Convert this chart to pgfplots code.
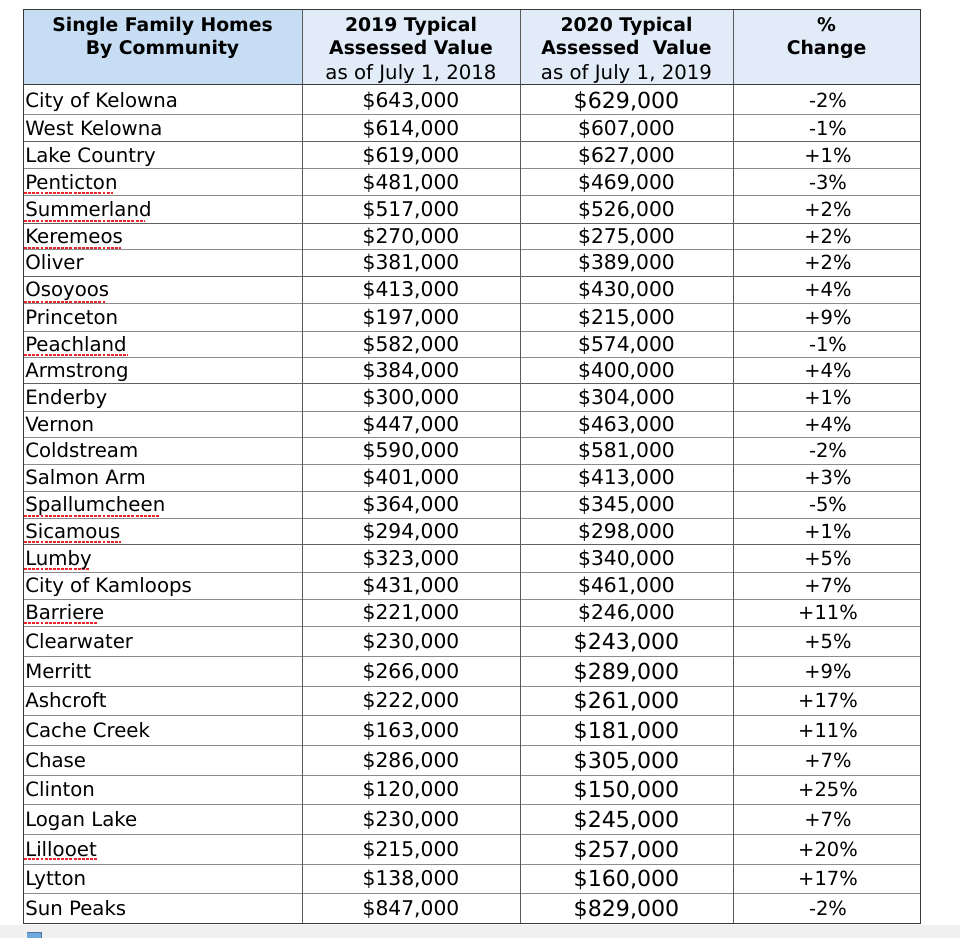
\documentclass[border=0pt]{standalone}
\usepackage{pgfplots}
\pgfplotsset{compat=1.18}
\usepackage{pgfplotstable}
\usepackage{fontspec}
\setmainfont{DejaVu Sans}
\definecolor{hdrA}{HTML}{C6DDF3}
\definecolor{hdrB}{HTML}{E1ECF8}
\definecolor{gridc}{HTML}{8C8C8C}
\definecolor{darkc}{HTML}{3A3A3A}
\definecolor{vlin}{HTML}{5A5A5A}
\definecolor{spell}{HTML}{E5262B}
\definecolor{iconb}{HTML}{6FA8DC}

\pgfplotstableread[col sep=semicolon]{
y;name;a;b;p
100;City of Kelowna;643000;629000;-2
128.5;West Kelowna;614000;607000;-1
155.5;Lake Country;619000;627000;1
182.5;Penticton;481000;469000;-3
209.5;Summerland;517000;526000;2
236;Keremeos;270000;275000;2
262.5;Oliver;381000;389000;2
289.5;Osoyoos;413000;430000;4
317;Princeton;197000;215000;9
344;Peachland;582000;574000;-1
370;Armstrong;384000;400000;4
397;Enderby;300000;304000;1
424;Vernon;447000;463000;4
450.5;Coldstream;590000;581000;-2
477.5;Salmon Arm;401000;413000;3
504.5;Spallumcheen;364000;345000;-5
531;Sicamous;294000;298000;1
558;Lumby;323000;340000;5
585.5;City of Kamloops;431000;461000;7
612.5;Barriere;221000;246000;11
641;Clearwater;230000;243000;5
671;Merritt;266000;289000;9
700.5;Ashcroft;222000;261000;17
730;Cache Creek;163000;181000;11
760;Chase;286000;305000;7
789.5;Clinton;120000;150000;25
819;Logan Lake;230000;245000;7
849;Lillooet;215000;257000;20
878.5;Lytton;138000;160000;17
908;Sun Peaks;847000;829000;-2
}\rows

\pgfplotstableread[col sep=semicolon]{
x;y;t
162.5;32;Single Family Homes
162.5;55;By Community
411;32;2019 Typical
411;55;Assessed Value
626.5;32;2020 Typical
626.5;55;Assessed\ \ Value
826.5;32;\%
826.5;55;Change
}\hdrbold

\pgfplotstableread[col sep=semicolon]{
x;y;t
411;80;as of July 1, 2018
626.5;80;as of July 1, 2019
}\hdrreg

\begin{document}
\begin{tikzpicture}
\begin{axis}[scale only axis, width=720pt, height=703.5pt,
  xmin=0, xmax=960, ymin=0, ymax=938, y dir=reverse, hide axis,
  every node near coord/.append style={inner sep=0pt, text=black}]
% background
\addplot[fill=white, draw=none] coordinates {(0,0)(960,0)(960,938)(0,938)};
\addplot[fill=black!6, draw=none] coordinates {(0,925)(960,925)(960,938)(0,938)};
% header fills
\addplot[fill=hdrA, draw=none] coordinates {(23,10)(302,10)(302,85)(23,85)};
\addplot[fill=hdrB, draw=none] coordinates {(302,10)(920,10)(920,85)(302,85)};
% small icon
\addplot[fill=iconb, draw=iconb!70!black, line width=0.6pt] coordinates {(27,932)(41,932)(41,938)(27,938)};
% inner horizontal lines
\addplot[gridc, line width=0.75pt, unbounded coords=jump] table {
x y
23 115
920 115
nan nan
23 169
920 169
nan nan
23 196
920 196
nan nan
23 249
920 249
nan nan
23 303
920 303
nan nan
23 331
920 331
nan nan
23 357
920 357
nan nan
23 411
920 411
nan nan
23 437
920 437
nan nan
23 464
920 464
nan nan
23 491
920 491
nan nan
23 518
920 518
nan nan
23 572
920 572
nan nan
23 599
920 599
nan nan
23 626
920 626
nan nan
23 656
920 656
nan nan
23 686
920 686
nan nan
23 715
920 715
nan nan
23 745
920 745
nan nan
23 775
920 775
nan nan
23 804
920 804
nan nan
23 834
920 834
nan nan
23 864
920 864
nan nan
23 893
920 893
};
\addplot[darkc!80, line width=0.75pt, unbounded coords=jump] table {
x y
23 142
920 142
nan nan
23 223
920 223
nan nan
23 276
920 276
nan nan
23 383
920 383
nan nan
23 544
920 544
};
% vertical inner lines
\addplot[vlin, line width=0.75pt, unbounded coords=jump] table {
x y
302 10
302 923
nan nan
520 10
520 923
nan nan
733 10
733 923
};
% border and header rule
\addplot[darkc, line width=0.75pt] coordinates {(23,10)(920,10)(920,923)(23,923)(23,10)};
\addplot[darkc, line width=0.75pt] coordinates {(23,85)(920,85)};
% spell-check underlines
\addplot[spell, line width=1.5pt, dash pattern=on 2.2pt off 0.9pt, unbounded coords=jump] table {
x y
24 193
113 193
nan nan
24 221
144 221
nan nan
24 248
121 248
nan nan
24 302
106 302
nan nan
24 355
128 355
nan nan
24 516
159 516
nan nan
24 542
121 542
nan nan
24 569
90 569
nan nan
24 623
97 623
nan nan
24 859
97 859
};
% header text
\addplot[draw=none, nodes near coords, point meta=explicit symbolic,
  nodes near coords style={anchor=base, font=\fontsize{14.1}{17}\selectfont\bfseries}]
  table[x=x, y=y, meta=t] {\hdrbold};
\addplot[draw=none, nodes near coords, point meta=explicit symbolic,
  nodes near coords style={anchor=base, font=\fontsize{14.8}{17}\selectfont}]
  table[x=x, y=y, meta=t] {\hdrreg};
% names
\addplot[draw=none, nodes near coords, point meta=explicit symbolic,
  nodes near coords style={anchor=base west, yshift=-5.4pt, font=\fontsize{14.8}{17}\selectfont}]
  table[x expr=25, y=y, meta=name] {\rows};
% 2019 values
\addplot[draw=none, point meta=explicit,
  nodes near coords={\$\pgfmathprintnumber[fixed,precision=0,1000 sep={,},assume math mode=true]{\pgfplotspointmeta}},
  nodes near coords style={anchor=base, yshift=-5.5pt, font=\fontsize{15.2}{17}\selectfont}]
  table[x expr=411, y=y, meta=a] {\rows};
% 2020 values, regular rows
\addplot[draw=none, point meta=explicit,
  skip coords between index={0}{1}, skip coords between index={20}{30},
  nodes near coords={\$\pgfmathprintnumber[fixed,precision=0,1000 sep={,},assume math mode=true]{\pgfplotspointmeta}},
  nodes near coords style={anchor=base, yshift=-5.5pt, font=\fontsize{15.2}{17}\selectfont}]
  table[x expr=626.5, y=y, meta=b] {\rows};
% 2020 values, larger rows
\addplot[draw=none, point meta=explicit,
  skip coords between index={1}{20},
  nodes near coords={\$\pgfmathprintnumber[fixed,precision=0,1000 sep={,},assume math mode=true]{\pgfplotspointmeta}},
  nodes near coords style={anchor=base, yshift=-6.1pt, font=\fontsize{16.6}{19}\selectfont}]
  table[x expr=626.5, y=y, meta=b] {\rows};
% percent change
\addplot[draw=none, point meta=explicit,
  nodes near coords={\pgfmathprintnumber[showpos,assume math mode=true]{\pgfplotspointmeta}\%},
  nodes near coords style={anchor=base, yshift=-5.4pt, font=\fontsize{14.6}{17}\selectfont}]
  table[x expr=828, y=y, meta=p] {\rows};
\end{axis}
\end{tikzpicture}
\end{document}
